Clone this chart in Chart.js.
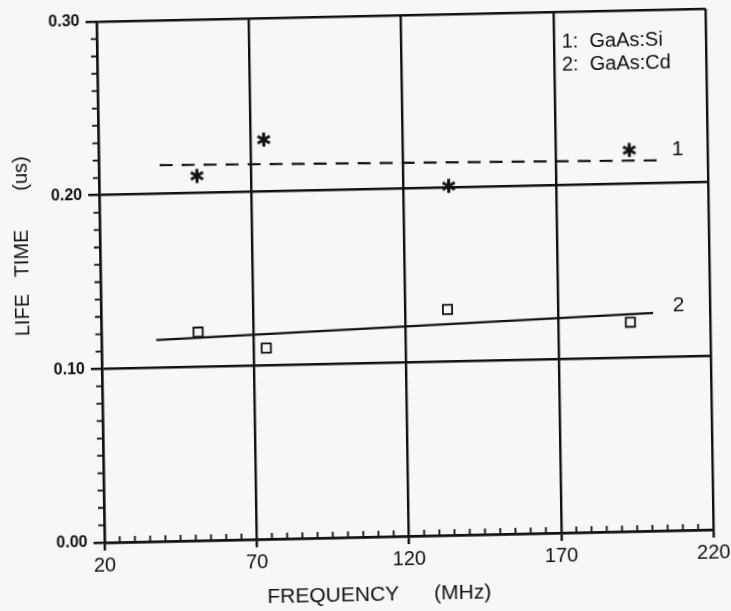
<!DOCTYPE html>
<html>
<head>
<meta charset="utf-8">
<title>Life time vs frequency</title>
<script src="https://cdn.jsdelivr.net/npm/chart.js@4.4.1/dist/chart.umd.min.js"></script>
<style>
  html, body { margin: 0; padding: 0; background: #f7f7f5; overflow: hidden; }
  /* the printed figure sits slightly askew on the page */
  #wrap { width: 731px; height: 611px; transform: matrix(1, -0.0213, 0.0154, 1, 0, 0); }
</style>
</head>
<body>
<div id="wrap"><canvas id="chart-life" width="731" height="611"></canvas></div>
<script>
// ------------ Data ------------
// 1: GaAs:Si  (asterisks + dashed fit)
const SI_FREQ = [52.2, 74.3, 134.8, 194.3];
const SI_LIFE = [0.210, 0.230, 0.201, 0.2195];
const SI_FIT_FREQ = [40, 206];
const SI_FIT_LIFE = [0.2166, 0.2132];

// 2: GaAs:Cd  (open squares + solid fit)
const CD_FREQ = [51.8, 74.1, 133.8, 193.8];
const CD_LIFE = [0.120, 0.110, 0.130, 0.1204];
const CD_FIT_FREQ = [38, 201.3];
const CD_FIT_LIFE = [0.116, 0.1254];

const X_TICKS = [20, 70, 120, 170, 220];
const Y_TICKS = [0.00, 0.10, 0.20, 0.30];
const LEGEND_LINES = ["1:  GaAs:Si", "2:  GaAs:Cd"];
const CURVE_TAGS = ["1", "2"];

// ------------ Helpers ------------
const INK = "#111111";
const PAPER = "#f7f7f5";
const FONT = "'Liberation Sans', Arial, sans-serif";

function pts(xs, ys){ return xs.map((x, i) => ({ x, y: ys[i] })); }

// six-armed asterisk used as point marker
function asteriskMark(size, lw){
  const c = document.createElement("canvas");
  c.width = c.height = size;
  const g = c.getContext("2d");
  g.strokeStyle = INK; g.lineWidth = lw;
  g.translate(size / 2, size / 2);
  const r = size / 2 - 0.5;
  for (let k = 0; k < 3; k++) {
    const a = Math.PI / 2 + k * Math.PI / 3;
    g.beginPath();
    g.moveTo(Math.cos(a) * r, Math.sin(a) * r);
    g.lineTo(-Math.cos(a) * r, -Math.sin(a) * r);
    g.stroke();
  }
  return c;
}

// ------------ Plugins ------------
const paper = {
  id: "paper",
  beforeDraw(chart){
    const { ctx, width, height } = chart;
    ctx.save(); ctx.fillStyle = PAPER; ctx.fillRect(0, 0, width, height); ctx.restore();
  }
};

const decorations = {
  id: "decorations",
  afterDraw(chart){
    const { ctx, chartArea: a, scales: { x, y } } = chart;
    ctx.save();
    ctx.strokeStyle = INK; ctx.fillStyle = INK;

    // minor ticks: y every 0.01 (outside), x every 5 MHz (inside)
    ctx.lineWidth = 1.8;
    ctx.beginPath();
    for (let i = 1; i < 30; i++) {
      if (i % 10 === 0) continue;
      const py = y.getPixelForValue(i / 100);
      ctx.moveTo(a.left - 6, py); ctx.lineTo(a.left, py);
    }
    for (let v = 25; v < 220; v += 5) {
      if ((v - 20) % 50 === 0) continue;
      const px = x.getPixelForValue(v);
      ctx.moveTo(px, a.bottom); ctx.lineTo(px, a.bottom - 6);
    }
    ctx.stroke();

    // legend block
    ctx.font = "20px " + FONT;
    ctx.textAlign = "left"; ctx.textBaseline = "middle";
    ctx.fillText(LEGEND_LINES[0], x.getPixelForValue(172.6), y.getPixelForValue(0.2826));
    ctx.fillText(LEGEND_LINES[1], x.getPixelForValue(172.6), y.getPixelForValue(0.2694));

    // curve numbers
    ctx.font = "21px " + FONT;
    ctx.fillText(CURVE_TAGS[0], x.getPixelForValue(208.3), y.getPixelForValue(0.2191));
    ctx.fillText(CURVE_TAGS[1], x.getPixelForValue(207.8), y.getPixelForValue(0.1293));

    // axis titles
    ctx.font = "21px " + FONT;
    ctx.textAlign = "center";
    ctx.fillText("FREQUENCY      (MHz)", a.left + 274, a.bottom + 58);

    ctx.font = "20px " + FONT;
    ctx.translate(a.left - 78, a.top + 223);
    ctx.rotate(-Math.PI / 2);
    ctx.fillText("LIFE   TIME       (us)", 0, 0);
    ctx.restore();
  }
};

// ------------ Chart ------------
const ctx = document.getElementById("chart-life").getContext("2d");
new Chart(ctx, {
  type: "scatter",
  data: {
    datasets: [
      {
        label: "GaAs:Si",
        data: pts(SI_FREQ, SI_LIFE),
        pointStyle: asteriskMark(15, 3),
        pointRadius: 7,
        showLine: false
      },
      {
        label: "GaAs:Si fit",
        data: pts(SI_FIT_FREQ, SI_FIT_LIFE),
        showLine: true,
        pointRadius: 0,
        borderColor: INK,
        borderWidth: 2.2,
        borderDash: [13, 9]
      },
      {
        label: "GaAs:Cd",
        data: pts(CD_FREQ, CD_LIFE),
        pointStyle: "rect",
        pointRadius: 6.5,
        borderColor: INK,
        borderWidth: 1.8,
        backgroundColor: "rgba(0,0,0,0)",
        showLine: false
      },
      {
        label: "GaAs:Cd fit",
        data: pts(CD_FIT_FREQ, CD_FIT_LIFE),
        showLine: true,
        pointRadius: 0,
        borderColor: INK,
        borderWidth: 2.2
      }
    ]
  },
  options: {
    responsive: false,
    animation: false,
    events: [],
    layout: { padding: { left: 0, right: 21, top: 16, bottom: 0 } },
    plugins: { legend: { display: false }, tooltip: { enabled: false } },
    scales: {
      x: {
        type: "linear",
        min: X_TICKS[0],
        max: X_TICKS[X_TICKS.length - 1],
        afterBuildTicks: s => { s.ticks = X_TICKS.map(v => ({ value: v })); },
        afterFit: s => { s.height = 74; },
        ticks: { color: INK, font: { family: FONT, size: 20 }, padding: 3, maxRotation: 0, autoSkip: false },
        grid: { color: INK, lineWidth: 2.4, tickLength: 8, tickColor: INK, tickWidth: 2.4 },
        border: { color: INK, width: 2.4 }
      },
      y: {
        type: "linear",
        min: Y_TICKS[0],
        max: Y_TICKS[Y_TICKS.length - 1],
        afterBuildTicks: s => { s.ticks = Y_TICKS.map(v => ({ value: v })); },
        afterFit: s => { s.width = 101; },
        ticks: {
          color: INK, font: { family: FONT, size: 16, weight: "bold" }, padding: 6, autoSkip: false,
          callback: v => Number(v).toFixed(2)
        },
        grid: { color: INK, lineWidth: 2.4, tickLength: 11, tickColor: INK, tickWidth: 2.4 },
        border: { color: INK, width: 2.4 }
      }
    }
  },
  plugins: [paper, decorations]
});
</script>
</body>
</html>
